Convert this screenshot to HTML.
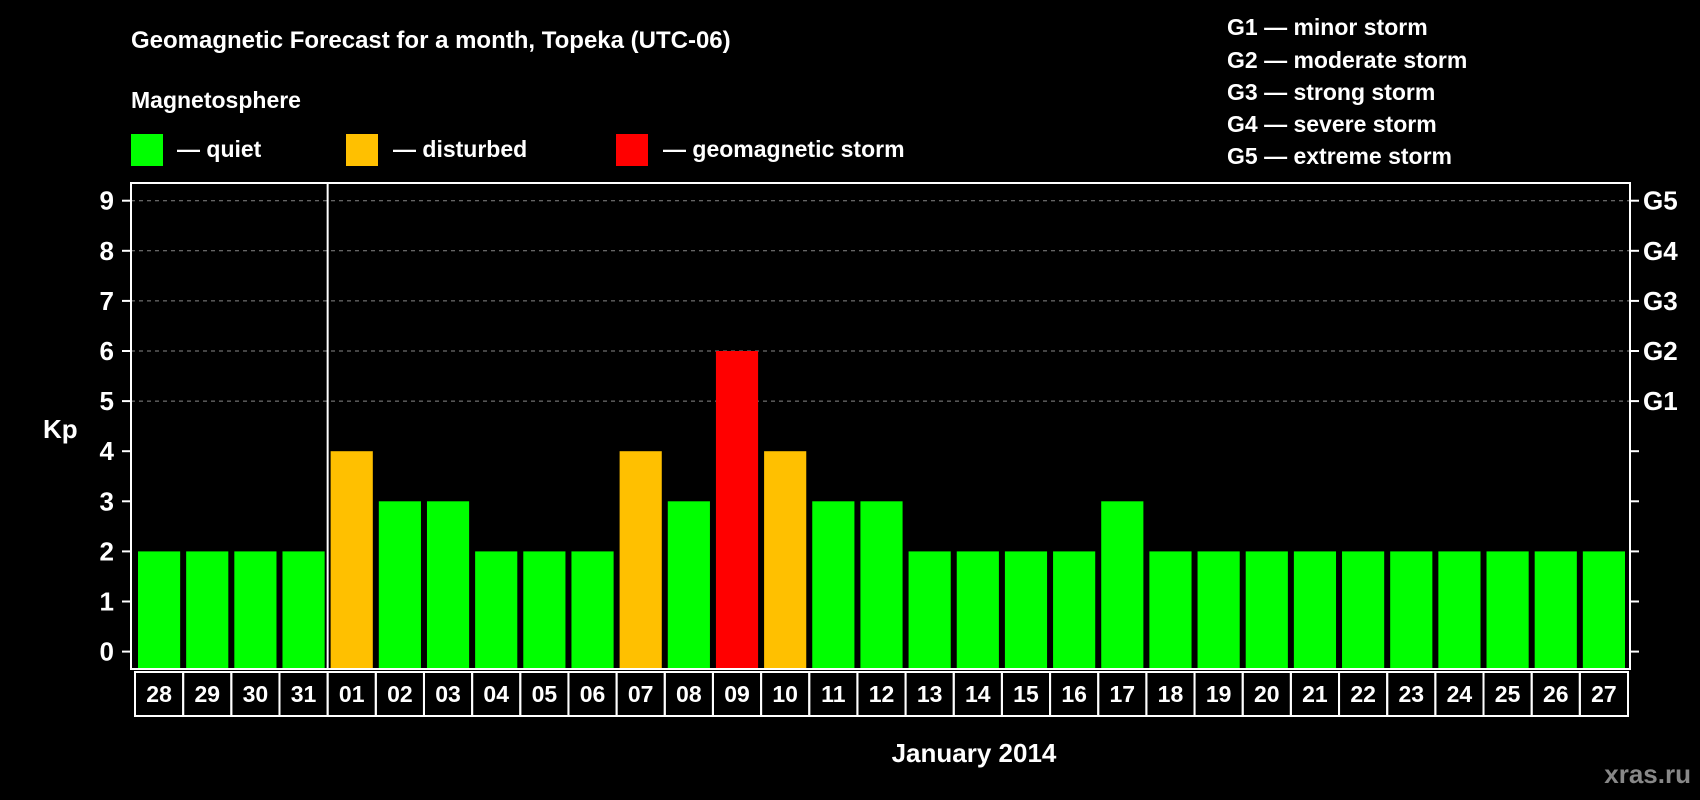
<!DOCTYPE html>
<html><head><meta charset="utf-8"><style>
html,body{margin:0;padding:0;background:#000;}
svg{display:block;font-family:"Liberation Sans",Arial,sans-serif;font-weight:bold;}
</style></head><body>
<svg id="chart" width="1700" height="800" viewBox="0 0 1700 800">
<text x="131" y="48" fill="#fff" font-size="24">Geomagnetic Forecast for a month, Topeka (UTC-06)</text>
<text x="131" y="108" fill="#fff" font-size="23">Magnetosphere</text>
<g><rect x="131" y="134" width="32" height="32" fill="#00ff00"/><text x="177" y="157" fill="#fff" font-size="23">— quiet</text></g>
<g><rect x="346" y="134" width="32" height="32" fill="#ffc000"/><text x="393" y="157" fill="#fff" font-size="23">— disturbed</text></g>
<g><rect x="616" y="134" width="32" height="32" fill="#ff0000"/><text x="663" y="157" fill="#fff" font-size="23">— geomagnetic storm</text></g>
<g fill="#fff" font-size="23">
<text x="1227" y="35">G1 — minor storm</text>
<text x="1227" y="68">G2 — moderate storm</text>
<text x="1227" y="100">G3 — strong storm</text>
<text x="1227" y="132">G4 — severe storm</text>
<text x="1227" y="164">G5 — extreme storm</text>
</g>
<text x="43" y="438" fill="#fff" font-size="26">Kp</text>
<text x="974" y="762" fill="#fff" font-size="26" text-anchor="middle">January 2014</text>
<text x="1691" y="783" fill="#888" font-size="26" text-anchor="end">xras.ru</text>
<g id="plot"></g>
</svg>
<script>
const days = ["28","29","30","31","01","02","03","04","05","06","07","08","09","10","11","12","13","14","15","16","17","18","19","20","21","22","23","24","25","26","27"];
const kp = [2,2,2,2,4,3,3,2,2,2,4,3,6,4,3,3,2,2,2,2,3,2,2,2,2,2,2,2,2,2,2];
const yTicks = [0,1,2,3,4,5,6,7,8,9];
const gLabels = ["G1","G2","G3","G4","G5"];
const gLevels = [5,6,7,8,9];

const NS="http://www.w3.org/2000/svg";
const plot=document.getElementById('plot');
const L=131,R=1630,T=183,B=669;
const y0=651.6, unit=50.1;
function y(v){return y0-v*unit;}
const pitch=(R-L-6)/days.length;
function x(i){return L+7+i*pitch;}
function mk(tag,attrs){const e=document.createElementNS(NS,tag);for(const k in attrs)e.setAttribute(k,attrs[k]);plot.appendChild(e);return e;}

yTicks.forEach(v=>{
  if(v>=5){const g=mk('line',{x1:L,x2:R,y1:y(v),y2:y(v),stroke:'#888','stroke-dasharray':'4,4','stroke-width':1});
  
  }
  const t=mk('line',{x1:L-9,x2:L,y1:y(v),y2:y(v),stroke:'#fff','stroke-width':2});
  
  
  const t2=mk('line',{x1:R,x2:R+9,y1:y(v),y2:y(v),stroke:'#fff','stroke-width':2});
  
  
  const lb=mk('text',{x:L-17,y:y(v)+9,fill:'#fff','font-size':26,'text-anchor':'end'});
  lb.textContent=v;
  
  
});
gLabels.forEach((g,i)=>{
  const lb=mk('text',{x:R+13,y:y(gLevels[i])+9,fill:'#fff','font-size':26});
  lb.textContent=g;
  
  
});
kp.forEach((v,i)=>{
  const c=v>=5?'#ff0000':(v>=4?'#ffc000':'#00ff00');
  const b=mk('rect',{x:x(i),y:y(v),width:pitch-6,height:B-y(v)-1,fill:c});
  
  
  const bx=mk('rect',{x:x(i)-3,y:B+3,width:pitch,height:44,fill:'none',stroke:'#fff','stroke-width':2});
  
  
  const t=mk('text',{x:x(i)-3+pitch/2,y:B+33,fill:'#fff','font-size':23,'text-anchor':'middle'});
  t.textContent=days[i];
  
  
});
const fr=mk('rect',{x:L,y:T,width:R-L,height:B-T,fill:'none',stroke:'#fff','stroke-width':2});


const dv=x(4)-3;
const d=mk('line',{x1:dv,x2:dv,y1:T,y2:B,stroke:'#fff','stroke-width':2});


</script>
</body></html>
